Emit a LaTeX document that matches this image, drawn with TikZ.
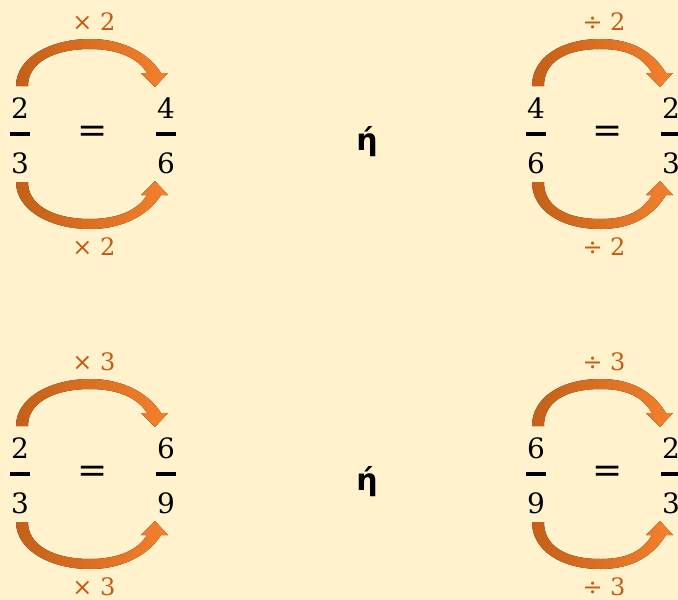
\documentclass[tikz,border=0pt]{standalone}
\usepackage{fontspec}
\usepackage{xcolor}
\usepackage{tikz}
\usetikzlibrary{calc}
\newfontfamily\digitfont{DejaVu Serif}
\newfontfamily\etafont{DejaVu Sans}
\definecolor{bgY}{RGB}{255,242,204}
\definecolor{clrOp}{RGB}{197,90,17}
\definecolor{arrL}{RGB}{196,96,24}
\definecolor{arrR}{RGB}{244,128,44}
\tikzset{
  digit/.style={anchor=base,inner sep=0pt,font=\digitfont\fontsize{28}{30}\selectfont},
  fracbar/.style={rectangle,fill=black,minimum width=20pt,minimum height=4pt,inner sep=0pt},
  eqsign/.style={inner sep=0pt,font=\digitfont\fontsize{36}{40}\selectfont},
  oplabel/.style={anchor=base,inner sep=0pt,text=clrOp,font=\digitfont\fontsize{24}{26}\selectfont},
  ortext/.style={anchor=base,inner sep=0pt,font=\etafont\bfseries\fontsize{30}{32}\selectfont},
  bendarrow/.style={left color=arrL,right color=arrR,draw=none}
}
% fraction: bar node #1, numerator #1num, denominator #1den
\newcommand{\fracnode}[5]{%
  \node[fracbar] (#1) at (#2,#3) {};
  \node[digit] (#1num) at ($(#1)+(0,-16)$) {#4};
  \node[digit] (#1den) at ($(#1)+(0,39)$) {#5};
}
% curved block arrow from bar #1 to bar #2, #3 = -1 over, 1 under
\newcommand{\bendarrow}[3]{%
  \fill[bendarrow] ($(#1)+(-4,{48*(#3)})$)
    .. controls ($(#1)+(-4,{76*(#3)})$) and ($(#1)!0.5!(#2)+(-43,{95*(#3)})$)
    .. ($(#1)!0.5!(#2)+(-3,{95*(#3)})$)
    .. controls ($(#1)!0.5!(#2)+(32,{95*(#3)})$) and ($(#2)+(-16,{79*(#3)})$)
    .. ($(#2)+(-5,{61*(#3)})$)
    -- ($(#2)+(2,{61*(#3)})$) -- ($(#2)+(-11,{47*(#3)})$) -- ($(#2)+(-25,{61*(#3)})$)
    -- ($(#2)+(-19,{61*(#3)})$)
    .. controls ($(#2)+(-28,{76*(#3)})$) and ($(#1)!0.5!(#2)+(25,{85*(#3)})$)
    .. ($(#1)!0.5!(#2)+(-3,{85*(#3)})$)
    .. controls ($(#1)!0.5!(#2)+(-38,{85*(#3)})$) and ($(#1)+(8,{72*(#3)})$)
    .. ($(#1)+(8,{48*(#3)})$) -- cycle;
}

\begin{document}
\begin{tikzpicture}[x=1pt,y=-1pt]
  \useasboundingbox (0,0) rectangle (678,600);
  \fill[bgY] (0,0) rectangle (678,600);
  \clip (0,0) rectangle (678,600);
  % first row: x2 and /2
  \fracnode{fa1}{20}{134}{2}{3}
  \fracnode{fb1}{166}{134}{4}{6}
  \fracnode{fc1}{536}{134}{4}{6}
  \fracnode{fd1}{671}{134}{2}{3}
  \node[eqsign] (eqa1) at (93,134) {=};
  \node[eqsign] (eqc1) at (608,134) {=};
  \node[ortext] (or1) at (367,150) {ή};
  \bendarrow{fa1}{fb1}{-1}
  \bendarrow{fa1}{fb1}{1}
  \bendarrow{fc1}{fd1}{-1}
  \bendarrow{fc1}{fd1}{1}
  \node[oplabel] (opa1) at (94,30) {× 2};
  \node[oplabel] (opb1) at (94,255) {× 2};
  \node[oplabel] (opc1) at (604,30) {÷ 2};
  \node[oplabel] (opd1) at (604,255) {÷ 2};
  % second row: x3 and /3
  \fracnode{fa2}{20}{474}{2}{3}
  \fracnode{fb2}{166}{474}{6}{9}
  \fracnode{fc2}{536}{474}{6}{9}
  \fracnode{fd2}{671}{474}{2}{3}
  \node[eqsign] (eqa2) at (93,474) {=};
  \node[eqsign] (eqc2) at (608,474) {=};
  \node[ortext] (or2) at (367,490) {ή};
  \bendarrow{fa2}{fb2}{-1}
  \bendarrow{fa2}{fb2}{1}
  \bendarrow{fc2}{fd2}{-1}
  \bendarrow{fc2}{fd2}{1}
  \node[oplabel] (opa2) at (94,370) {× 3};
  \node[oplabel] (opb2) at (94,595) {× 3};
  \node[oplabel] (opc2) at (604,370) {÷ 3};
  \node[oplabel] (opd2) at (604,595) {÷ 3};
\end{tikzpicture}
\end{document}
